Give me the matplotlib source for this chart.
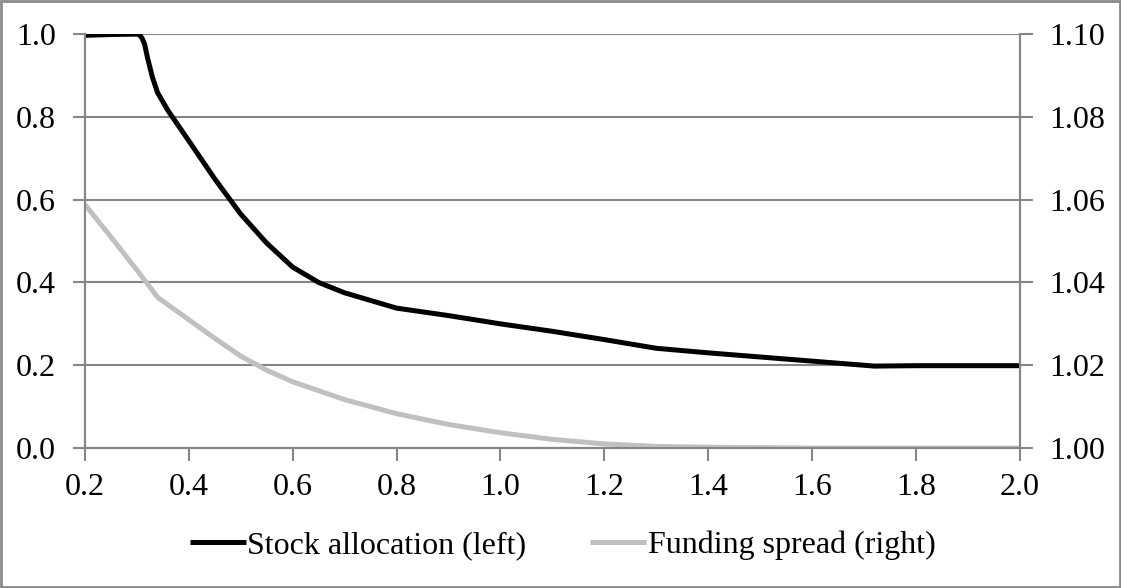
import matplotlib
matplotlib.use("Agg")
import matplotlib.pyplot as plt
from matplotlib.patches import Rectangle
from matplotlib.ticker import FormatStrFormatter

plt.rcParams['font.family'] = ['Liberation Serif', 'DejaVu Serif']

# stock allocation (left axis)
x_stock = [0.20, 0.25, 0.30, 0.305, 0.31, 0.315, 0.32, 0.33, 0.34, 0.36, 0.40, 0.45,
           0.50, 0.55, 0.60, 0.65, 0.70, 0.80, 0.90, 1.00, 1.10, 1.20, 1.30,
           1.40, 1.50, 1.60, 1.70, 1.72, 1.80, 1.90, 2.00]
stock = [0.997, 0.999, 1.000, 0.998, 0.99, 0.975, 0.945, 0.895, 0.858, 0.815, 0.742, 0.650,
         0.565, 0.495, 0.437, 0.400, 0.375, 0.338, 0.320, 0.300, 0.282, 0.262, 0.241,
         0.230, 0.220, 0.210, 0.200, 0.198, 0.199, 0.199, 0.199]

# funding spread (right axis)
x_spread = [0.20, 0.25, 0.30, 0.34, 0.40, 0.45, 0.50, 0.55, 0.60, 0.70, 0.80, 0.90,
            1.00, 1.10, 1.20, 1.30, 1.40, 1.50, 1.60, 1.80, 2.00]
spread = [1.0588, 1.0510, 1.0430, 1.0364, 1.0310, 1.0265, 1.0222, 1.0188, 1.0160,
          1.0117, 1.0083, 1.0057, 1.0037, 1.0021, 1.0010, 1.0004, 1.0002, 1.0001,
          1.0000, 1.0000, 1.0000]

xticks = [0.2, 0.4, 0.6, 0.8, 1.0, 1.2, 1.4, 1.6, 1.8, 2.0]
left_ticks = [0.0, 0.2, 0.4, 0.6, 0.8, 1.0]
right_ticks = [1.00, 1.02, 1.04, 1.06, 1.08, 1.10]

GRID = '#868686'
FS = 23

fig = plt.figure(figsize=(11.21, 5.88), dpi=100)
ax = fig.add_axes([0.0758, 0.238, 0.834, 0.704])
ax2 = ax.twinx()

for y in left_ticks:
    ax.axhline(y, color=GRID, lw=1.5, zorder=0)

l1, = ax.plot(x_stock, stock, color='black', lw=3.6, solid_capstyle='butt',
              label='Stock allocation (left)', zorder=3)
l2, = ax2.plot(x_spread, spread, color='#c0c0c0', lw=3.6, solid_capstyle='butt',
               label='Funding spread (right)', zorder=2)

ax.set_xlim(0.2, 2.0)
ax.set_ylim(0.0, 1.0)
ax2.set_ylim(1.00, 1.10)
ax.set_xticks(xticks)
ax.set_yticks(left_ticks)
ax2.set_yticks(right_ticks)
ax.xaxis.set_major_formatter(FormatStrFormatter('%.1f'))
ax.yaxis.set_major_formatter(FormatStrFormatter('%.1f'))
ax2.yaxis.set_major_formatter(FormatStrFormatter('%.2f'))

for a in (ax, ax2):
    a.spines['top'].set_visible(False)
    for s in ('left', 'right', 'bottom'):
        a.spines[s].set_color(GRID)
        a.spines[s].set_linewidth(1.5)
    a.tick_params(axis='both', colors=GRID, labelcolor='black', labelsize=FS,
                  length=9, width=1.5, direction='out')
ax.tick_params(axis='x', pad=9)
ax.tick_params(axis='y', pad=12)
ax2.tick_params(axis='y', pad=12)

fig.legend(handles=[l1, l2], loc='center', bbox_to_anchor=(0.502, 0.073), ncol=2,
           frameon=False, fontsize=FS, handlelength=1.75, handletextpad=0.05,
           columnspacing=2.0)

fig.patches.append(Rectangle((0.001, 0.002), 0.998, 0.996, transform=fig.transFigure,
                             fill=False, edgecolor='#8a8a8a', lw=2))

fig.savefig('out.png', dpi=100)
